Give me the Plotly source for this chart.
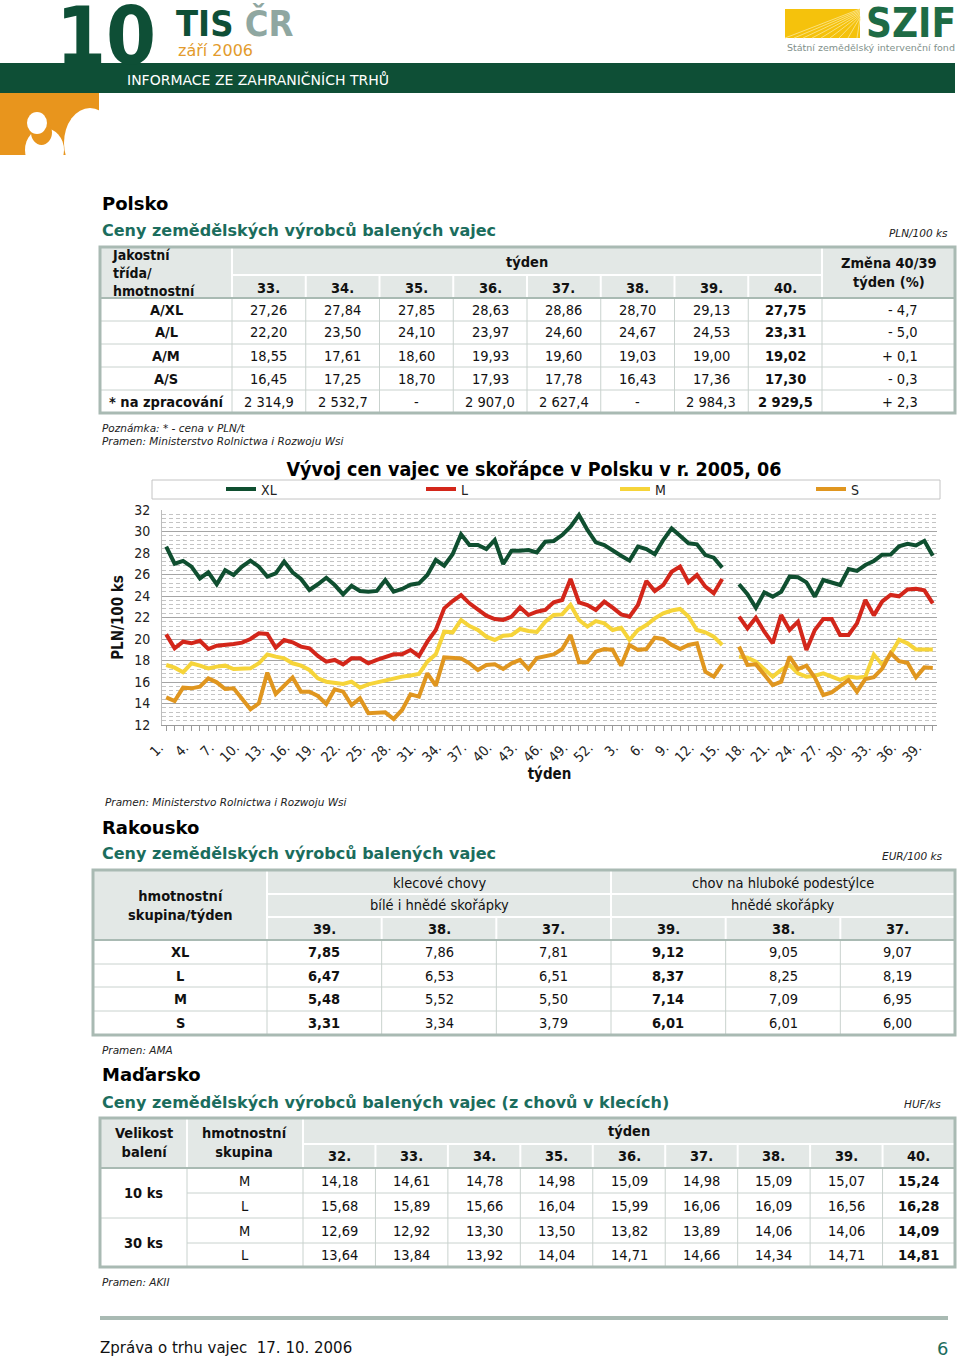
import plotly.graph_objects as go

W, H = 960, 1359

# ---------------- chart data (Polsko, PLN/100 ks) ----------------
weeks_2005 = list(range(1, 53))
weeks_2006 = list(range(1, 41))
week_labels = [f"{w}." for w in weeks_2005] + [f"{w}." for w in weeks_2006]

xl_series = [28.6, 27.0, 27.26, 26.73, 25.64, 26.2, 25.09, 26.4, 25.95, 26.73,
             27.29, 26.73, 25.8, 26.1, 27.2, 26.2, 25.58, 24.56, 25.09, 25.7,
             25.02, 24.16, 24.96, 24.47, 24.4, 24.47, 25.49, 24.4, 24.65, 25.05,
             25.18, 25.95, 27.35, 26.82, 27.88, 29.74, 28.74, 28.74, 28.37, 29.2,
             26.98, 28.22, 28.22, 28.28, 28.06, 29.05, 29.12, 29.67, 30.45, 31.53,
             30.14, 28.99, 28.74, 28.19, 27.75, 27.29, 28.59, 28.37, 27.88, 29.2,
             30.29, 29.61, 28.9, 28.81, 27.81, 27.57, 26.64, None, 25.09, 24.16,
             22.91, 24.34, 23.94, 24.4, 25.8, 25.75, 25.27, 23.94, 25.49, 25.27,
             25.02, 26.51, 26.33, 26.88, 27.26, 27.84, 27.85, 28.63, 28.86, 28.70,
             29.13, 27.75]
l_series = [20.43, 19.13, 19.75, 19.6, 19.84, 19.07, 19.38, 19.44, 19.53, 19.66,
            20.0, 20.53, 20.47, 19.19, 19.9, 19.69, 19.29, 19.13, 18.42, 17.89,
            18.05, 17.64, 18.2, 18.2, 17.74, 18.05, 18.29, 18.57, 18.57, 18.98,
            18.42, 19.75, 20.84, 22.85, 23.53, 24.09, 23.32, 22.7, 22.17, 21.86,
            21.77, 22.08, 22.95, 22.23, 22.54, 22.7, 23.41, 23.63, 25.58, 23.41,
            23.16, 22.7, 23.47, 22.91, 22.29, 22.08, 23.16, 25.4, 24.47, 25.02,
            26.25, 26.73, 25.27, 25.95, 24.87, 24.25, 25.58, None, 22.08, 20.99,
            21.98, 20.68, 19.6, 22.23, 20.84, 21.61, 18.98, 20.84, 21.86, 21.86,
            20.37, 20.37, 21.46, 23.63, 22.20, 23.50, 24.10, 23.97, 24.60, 24.67,
            24.53, 23.31]
m_series = [17.58, 17.33, 16.9, 17.74, 17.52, 17.27, 17.43, 17.52, 17.21, 17.21,
            17.27, 17.74, 18.57, 18.36, 18.2, 17.74, 17.52, 17.12, 16.34, 16.03,
            15.88, 15.81, 16.03, 15.47, 15.78, 15.97, 16.12, 16.28, 16.5, 16.6,
            16.74, 17.89, 18.57, 20.68, 20.62, 21.77, 21.2, 20.84, 20.22, 19.91,
            20.31, 20.37, 20.93, 20.74, 20.65, 21.6, 22.23, 22.29, 23.16, 21.77,
            21.15, 21.67, 21.46, 20.84, 21.05, 19.91, 20.84, 21.3, 21.92, 22.39,
            22.65, 22.79, 22.08, 20.84, 20.62, 20.22, 19.44, None, 18.36, 18.26,
            17.89, 17.21, 16.5, 17.12, 17.58, 16.81, 16.5, 16.59, 16.81, 16.5,
            16.19, 16.5, 16.4, 16.5, 18.55, 17.61, 18.60, 19.93, 19.60, 19.03,
            19.00, 19.02]
s_series = [14.57, 14.23, 15.47, 15.41, 15.57, 16.34, 15.97, 15.35, 15.41, 14.48,
            13.46, 14.02, 16.87, 14.88, 15.72, 16.43, 15.1, 15.1, 14.7, 13.95,
            15.32, 15.1, 13.86, 14.48, 13.09, 13.15, 13.18, 12.56, 13.4, 14.85,
            14.64, 16.81, 15.66, 18.29, 18.26, 18.2, 17.74, 17.12, 17.58, 17.64,
            17.21, 17.74, 18.05, 17.21, 18.23, 18.42, 18.57, 19.07, 20.37, 17.83,
            17.83, 18.82, 19.07, 18.98, 17.52, 19.44, 18.98, 19.07, 20.12, 20.0,
            19.45, 19.07, 19.44, 19.6, 16.96, 16.5, 17.64, None, 19.29, 17.58,
            17.64, 16.65, 15.72, 16.03, 18.36, 17.2, 17.52, 16.4, 14.79, 15.04,
            15.57, 16.19, 15.1, 16.28, 16.45, 17.25, 18.70, 17.93, 17.78, 16.43,
            17.36, 17.30]
series_names = ["XL", "L", "M", "S"]

# ---------------- table data ----------------
pl_weeks = ["33.", "34.", "35.", "36.", "37.", "38.", "39.", "40."]
pl_classes = ["A/XL", "A/L", "A/M", "A/S", "* na zpracování"]
pl_xl = [27.26, 27.84, 27.85, 28.63, 28.86, 28.70, 29.13, 27.75]
pl_l = [22.20, 23.50, 24.10, 23.97, 24.60, 24.67, 24.53, 23.31]
pl_m = [18.55, 17.61, 18.60, 19.93, 19.60, 19.03, 19.00, 19.02]
pl_s = [16.45, 17.25, 18.70, 17.93, 17.78, 16.43, 17.36, 17.30]
pl_proc = [2314.9, 2532.7, None, 2907.0, 2627.4, None, 2984.3, 2929.5]
pl_change = [-4.7, -5.0, 0.1, -0.3, 2.3]

at_weeks = ["39.", "38.", "37.", "39.", "38.", "37."]
at_groups = ["XL", "L", "M", "S"]
at_cage = [[7.85, 7.86, 7.81], [6.47, 6.53, 6.51], [5.48, 5.52, 5.50], [3.31, 3.34, 3.79]]
at_barn = [[9.12, 9.05, 9.07], [8.37, 8.25, 8.19], [7.14, 7.09, 6.95], [6.01, 6.01, 6.00]]

hu_weeks = ["32.", "33.", "34.", "35.", "36.", "37.", "38.", "39.", "40."]
hu_packs = ["10 ks", "30 ks"]
hu_sizes = ["M", "L", "M", "L"]
hu_10_m = [14.18, 14.61, 14.78, 14.98, 15.09, 14.98, 15.09, 15.07, 15.24]
hu_10_l = [15.68, 15.89, 15.66, 16.04, 15.99, 16.06, 16.09, 16.56, 16.28]
hu_30_m = [12.69, 12.92, 13.30, 13.50, 13.82, 13.89, 14.06, 14.06, 14.09]
hu_30_l = [13.64, 13.84, 13.92, 14.04, 14.71, 14.66, 14.34, 14.71, 14.81]

# ---------------- styles ----------------
F_TAB = "DejaVu Sans Condensed, DejaVu Sans, sans-serif"
F_VER = "DejaVu Sans, Verdana, sans-serif"
GREEN = "#0e4f36"
TEAL = "#1b6d5d"
HDR_BG = "#e3e8e6"
BORDER = "#a9bab3"
INNER = "#c9d2ce"
TXT = "#111111"
COLORS = ["#0f4f30", "#d3261a", "#f6d439", "#e0961f"]
LEGEND_X = [221, 421, 615, 811]

ann = []
shp = []


def fx(x):
    return x / W


def fy(y):
    return 1 - y / H


def T(x, y, s, size=14, color=TXT, xanchor="center", family=F_TAB, bold=False, italic=False, align="center"):
    if bold:
        s = f"<b>{s}</b>"
    if italic:
        s = f"<i>{s}</i>"
    ann.append(dict(x=fx(x), y=fy(y), xref="paper", yref="paper", text=s, showarrow=False,
                    xanchor=xanchor, yanchor="middle", align=align,
                    font=dict(size=size, color=color, family=family)))


def R(x0, y0, x1, y1, fill=None, lc=None, lw=0):
    shp.append(dict(type="rect", xref="paper", yref="paper", x0=fx(x0), x1=fx(x1), y0=fy(y1), y1=fy(y0),
                    fillcolor=fill if fill else "rgba(0,0,0,0)",
                    line=dict(width=lw, color=lc if lc else "rgba(0,0,0,0)")))


def E(x0, y0, x1, y1, fill):
    shp.append(dict(type="circle", xref="paper", yref="paper", x0=fx(x0), x1=fx(x1), y0=fy(y1), y1=fy(y0),
                    fillcolor=fill, line=dict(width=0)))


def Ln(x0, y0, x1, y1, color=INNER, width=1):
    shp.append(dict(type="line", xref="paper", yref="paper", x0=fx(x0), x1=fx(x1), y0=fy(y0), y1=fy(y1),
                    line=dict(width=width, color=color)))


def fmt(v, dec=2):
    if v is None:
        return "-"
    s = f"{v:,.{dec}f}"
    return s.replace(",", " ").replace(".", ",")


def fmt_change(v):
    sign = "+" if v >= 0 else "-"
    return f"{sign} {fmt(abs(v), 1)}"


# ---------------- header ----------------
R(0, 63, 955, 93, fill=GREEN)
T(125, 79, "INFORMACE ZE ZAHRANIČNÍCH TRHŮ", 14, "#ffffff", "left", F_VER)
T(54, 36, "10", 80, GREEN, "left", F_TAB, bold=True)
T(174, 24, "TIS <span style='color:#8fa7a1'>ČR</span>", 36, GREEN, "left", F_TAB, bold=True)
T(176, 51, "září 2006", 16, "#e39b2c", "left", F_VER)
R(0, 93, 99, 155, fill="#e8951d")
E(64, 108, 116, 178, "#ffffff")
E(25, 128, 64, 172, "#ffffff")
E(31, 120, 52, 145, "#e8951d")
E(27, 112, 47, 134, "#ffffff")
R(0, 155, 120, 190, fill="#ffffff")
R(99, 93, 130, 160, fill="#ffffff")
# SZIF logo
R(785, 9, 860, 38, fill="#f5c20c")
for k in range(9):
    Ln(785 + k * 9, 38, 860, 9 + k * 1.2, color="#fbe07a", width=1)
T(864, 23, "SZIF", 40, "#1e6b45", "left", F_TAB, bold=True)
T(785, 47, "Státní zemědělský intervenční fond", 9.5, "#7f918b", "left", F_VER)

# ---------------- Polsko ----------------
T(100, 204, "Polsko", 18, "#000000", "left", F_VER, bold=True)
T(100, 231, "Ceny zemědělských výrobců balených vajec", 16, TEAL, "left", F_VER, bold=True)
T(950, 233, "PLN/100 ks", 10.5, "#222222", "right", F_VER, italic=True)

t1_l, t1_r, t1_c1, t1_c2 = 100, 955, 232, 822
t1_rows = [298, 321, 344, 367, 390, 413]
t1_w = (t1_c2 - t1_c1) / len(pl_weeks)
R(t1_l, 247, t1_r, 298, fill=HDR_BG)
Ln(t1_c1, 275, t1_c2, 275, "#ffffff", 2)
for k in range(1, len(pl_weeks)):
    xk = t1_c1 + k * t1_w
    Ln(xk, 275, xk, 298, "#ffffff", 2)
    Ln(xk, 298, xk, 413, INNER, 1)
Ln(t1_c1, 247, t1_c1, 298, "#ffffff", 2)
Ln(t1_c2, 247, t1_c2, 298, "#ffffff", 2)
Ln(t1_c1, 298, t1_c1, 413, INNER, 1)
Ln(t1_c2, 298, t1_c2, 413, INNER, 1)
for yk in t1_rows[:-1]:
    Ln(t1_l, yk, t1_r, yk, INNER if yk != 298 else BORDER, 1 if yk != 298 else 2)
R(t1_l, 247, t1_r, 413, lc=BORDER, lw=3)

T(110, 273, "Jakostní<br>třída/<br>hmotnostní", 14, TXT, "left", bold=True, align="left")
T((t1_c1 + t1_c2) / 2, 262, "týden", 14.5, bold=True)
T((t1_c2 + t1_r) / 2, 272, "Změna 40/39<br>týden (%)", 14.5, bold=True)
for k, wk in enumerate(pl_weeks):
    T(t1_c1 + (k + 0.5) * t1_w, 288, wk, 14.5, bold=True)
pl_table = [pl_xl, pl_l, pl_m, pl_s, pl_proc]
for r, (cls, vals) in enumerate(zip(pl_classes, pl_table)):
    yc = (t1_rows[r] + t1_rows[r + 1]) / 2
    T((t1_l + t1_c1) / 2, yc, cls, 14.5, bold=True)
    dec = 1 if r == 4 else 2
    for k, v in enumerate(vals):
        T(t1_c1 + (k + 0.5) * t1_w, yc, fmt(v, dec), 14.5, bold=(k == len(vals) - 1))
    T(920, yc, fmt_change(pl_change[r]), 14.5, TXT, "right")

T(100, 428, "Poznámka: * - cena v PLN/t", 10.5, "#222222", "left", F_VER, italic=True)
T(100, 441, "Pramen: Ministerstvo Rolnictwa i Rozwoju Wsi", 10.5, "#222222", "left", F_VER, italic=True)

# legend frame of chart
R(152, 480, 940, 499, lc="#c4c4c4", lw=1)
T(103, 802, "Pramen: Ministerstvo Rolnictwa i Rozwoju Wsi", 10.5, "#222222", "left", F_VER, italic=True)

# ---------------- Rakousko ----------------
T(100, 827, "Rakousko", 18, "#000000", "left", F_VER, bold=True)
T(100, 854, "Ceny zemědělských výrobců balených vajec", 16, TEAL, "left", F_VER, bold=True)
T(945, 856, "EUR/100 ks", 10.5, "#222222", "right", F_VER, italic=True)

t2_l, t2_r, t2_c1 = 93, 955, 267
t2_rows = [870, 894, 917, 940, 964, 987, 1011, 1035]
t2_w = (t2_r - t2_c1) / len(at_weeks)
t2_mid = t2_c1 + 3 * t2_w
R(t2_l, 870, t2_r, 940, fill=HDR_BG)
Ln(t2_c1, 894, t2_r, 894, "#ffffff", 2)
Ln(t2_c1, 917, t2_r, 917, "#ffffff", 2)
Ln(t2_c1, 870, t2_c1, 940, "#ffffff", 2)
Ln(t2_mid, 870, t2_mid, 940, "#ffffff", 2)
for k in range(1, len(at_weeks)):
    xk = t2_c1 + k * t2_w
    if k != 3:
        Ln(xk, 917, xk, 940, "#ffffff", 2)
    Ln(xk, 940, xk, 1035, INNER, 1)
Ln(t2_c1, 940, t2_c1, 1035, INNER, 1)
Ln(t2_l, 940, t2_r, 940, BORDER, 2)
for yk in t2_rows[4:-1]:
    Ln(t2_l, yk, t2_r, yk, INNER, 1)
R(t2_l, 870, t2_r, 1035, lc=BORDER, lw=3)

T((t2_l + t2_c1) / 2, 905, "hmotnostní<br>skupina/týden", 14.5, bold=True)
T((t2_c1 + t2_mid) / 2, 883, "klecové chovy", 14.5)
T((t2_mid + t2_r) / 2, 883, "chov na hluboké podestýlce", 14.5)
T((t2_c1 + t2_mid) / 2, 905, "bílé i hnědé skořápky", 14.5)
T((t2_mid + t2_r) / 2, 905, "hnědé skořápky", 14.5)
for k, wk in enumerate(at_weeks):
    T(t2_c1 + (k + 0.5) * t2_w, 929, wk, 14.5, bold=True)
for r, grp in enumerate(at_groups):
    yc = (t2_rows[3 + r] + t2_rows[4 + r]) / 2
    T((t2_l + t2_c1) / 2, yc, grp, 14.5, bold=True)
    vals = at_cage[r] + at_barn[r]
    for k, v in enumerate(vals):
        T(t2_c1 + (k + 0.5) * t2_w, yc, fmt(v), 14.5, bold=(k % 3 == 0))

T(100, 1050, "Pramen: AMA", 10.5, "#222222", "left", F_VER, italic=True)

# ---------------- Maďarsko ----------------
T(100, 1074, "Maďarsko", 18, "#000000", "left", F_VER, bold=True)
T(100, 1102, "Ceny zemědělských výrobců balených vajec (z chovů v klecích)", 16, TEAL, "left", F_VER, bold=True)
T(943, 1104, "HUF/ks", 10.5, "#222222", "right", F_VER, italic=True)

t3_l, t3_r, t3_c1, t3_c2 = 100, 955, 187, 303
t3_rows = [1118, 1144, 1168, 1193, 1218, 1243, 1267]
t3_w = (t3_r - t3_c2) / len(hu_weeks)
R(t3_l, 1118, t3_r, 1168, fill=HDR_BG)
Ln(t3_c2, 1144, t3_r, 1144, "#ffffff", 2)
Ln(t3_c1, 1118, t3_c1, 1168, "#ffffff", 2)
Ln(t3_c2, 1118, t3_c2, 1168, "#ffffff", 2)
for k in range(1, len(hu_weeks)):
    xk = t3_c2 + k * t3_w
    Ln(xk, 1144, xk, 1168, "#ffffff", 2)
    Ln(xk, 1168, xk, 1267, INNER, 1)
Ln(t3_c1, 1168, t3_c1, 1267, INNER, 1)
Ln(t3_c2, 1168, t3_c2, 1267, INNER, 1)
Ln(t3_l, 1168, t3_r, 1168, BORDER, 2)
Ln(t3_c1, 1193, t3_r, 1193, INNER, 1)
Ln(t3_l, 1218, t3_r, 1218, INNER, 1)
Ln(t3_c1, 1243, t3_r, 1243, INNER, 1)
R(t3_l, 1118, t3_r, 1267, lc=BORDER, lw=3)

T((t3_l + t3_c1) / 2, 1142, "Velikost<br>balení", 14.5, bold=True)
T((t3_c1 + t3_c2) / 2, 1142, "hmotnostní<br>skupina", 14.5, bold=True)
T((t3_c2 + t3_r) / 2, 1131, "týden", 14.5, bold=True)
for k, wk in enumerate(hu_weeks):
    T(t3_c2 + (k + 0.5) * t3_w, 1156, wk, 14.5, bold=True)
for g, pack in enumerate(hu_packs):
    T((t3_l + t3_c1) / 2, (t3_rows[2 + 2 * g] + t3_rows[4 + 2 * g]) / 2, pack, 14.5, bold=True)
hu_table = [hu_10_m, hu_10_l, hu_30_m, hu_30_l]
for r, (size, vals) in enumerate(zip(hu_sizes, hu_table)):
    yc = (t3_rows[2 + r] + t3_rows[3 + r]) / 2
    T((t3_c1 + t3_c2) / 2, yc, size, 14.5)
    for k, v in enumerate(vals):
        T(t3_c2 + (k + 0.5) * t3_w, yc, fmt(v), 14.5, bold=(k == len(vals) - 1))

T(100, 1282, "Pramen: AKII", 10.5, "#222222", "left", F_VER, italic=True)

# ---------------- footer ----------------
Ln(100, 1318, 948, 1318, BORDER, 4)
T(98, 1348, "Zpráva o trhu vajec\u00a0\u00a017. 10. 2006", 15, "#111111", "left", F_VER)
T(942, 1348, "6", 18, TEAL, "center", F_VER)

# ---------------- chart ----------------
x_idx = list(range(len(week_labels)))
tick_text = [lab if i % 3 == 0 else "" for i, lab in enumerate(week_labels)]

fig = go.Figure()
legend_ids = ["legend", "legend2", "legend3", "legend4"]
for name, ys, col, lid in zip(series_names, [xl_series, l_series, m_series, s_series], COLORS, legend_ids):
    fig.add_trace(go.Scatter(x=x_idx, y=ys, mode="lines", name=name, legend=lid,
                             line=dict(color=col, width=4), connectgaps=False))

legend_style = dict(orientation="h", xanchor="left", yanchor="middle", bgcolor="rgba(0,0,0,0)",
                    borderwidth=0, font=dict(size=14, family=F_TAB, color="#222222"))
legend_layout = {}
for lid, lx in zip(legend_ids, LEGEND_X):
    legend_layout[lid] = dict(x=fx(lx), y=fy(489.5), **legend_style)

fig.update_layout(
    width=W, height=H,
    margin=dict(l=0, r=0, t=0, b=0, pad=0, autoexpand=False),
    paper_bgcolor="#ffffff", plot_bgcolor="#ffffff",
    showlegend=True,
    title=dict(text="<b>Vývoj cen vajec ve skořápce v Polsku v r. 2005, 06</b>",
               x=fx(534), xanchor="center", y=fy(469), yanchor="middle",
               font=dict(size=19.5, family=F_TAB, color="#000000")),
    xaxis=dict(domain=[fx(162), fx(937)], range=[-0.5, 91.5], tickmode="array",
               tickvals=x_idx, ticktext=tick_text, tickangle=-45, ticks="outside", ticklen=5,
               tickcolor="#9a9a9a", showline=True, linecolor="#9a9a9a", showgrid=False, zeroline=False,
               ticklabelshift=-7, ticklabelstandoff=3,
               tickfont=dict(size=14, family=F_TAB, color="#222222"),
               title=dict(text="<b>týden</b>", standoff=2, font=dict(size=15, family=F_TAB, color="#111111"))),
    yaxis=dict(domain=[fy(725), fy(510)], range=[12, 32], tick0=12, dtick=2,
               showgrid=True, gridcolor="#a5a5a5", gridwidth=1, zeroline=False,
               minor=dict(tick0=12, dtick=0.4, showgrid=True, gridcolor="#c4c4c4", griddash="4px,3px", gridwidth=1),
               showline=True, linecolor="#bdbdbd", ticks="", ticklabelstandoff=8,
               tickfont=dict(size=14, family=F_TAB, color="#222222"),
               title=dict(text="<b>PLN/100 ks</b>", standoff=6, font=dict(size=15, family=F_TAB, color="#111111"))),
    annotations=ann,
    shapes=shp,
    **legend_layout,
)

fig.write_html("out.html", config={"staticPlot": True, "displayModeBar": False},
               post_script="document.body.style.margin='0';document.body.style.overflow='hidden';")
